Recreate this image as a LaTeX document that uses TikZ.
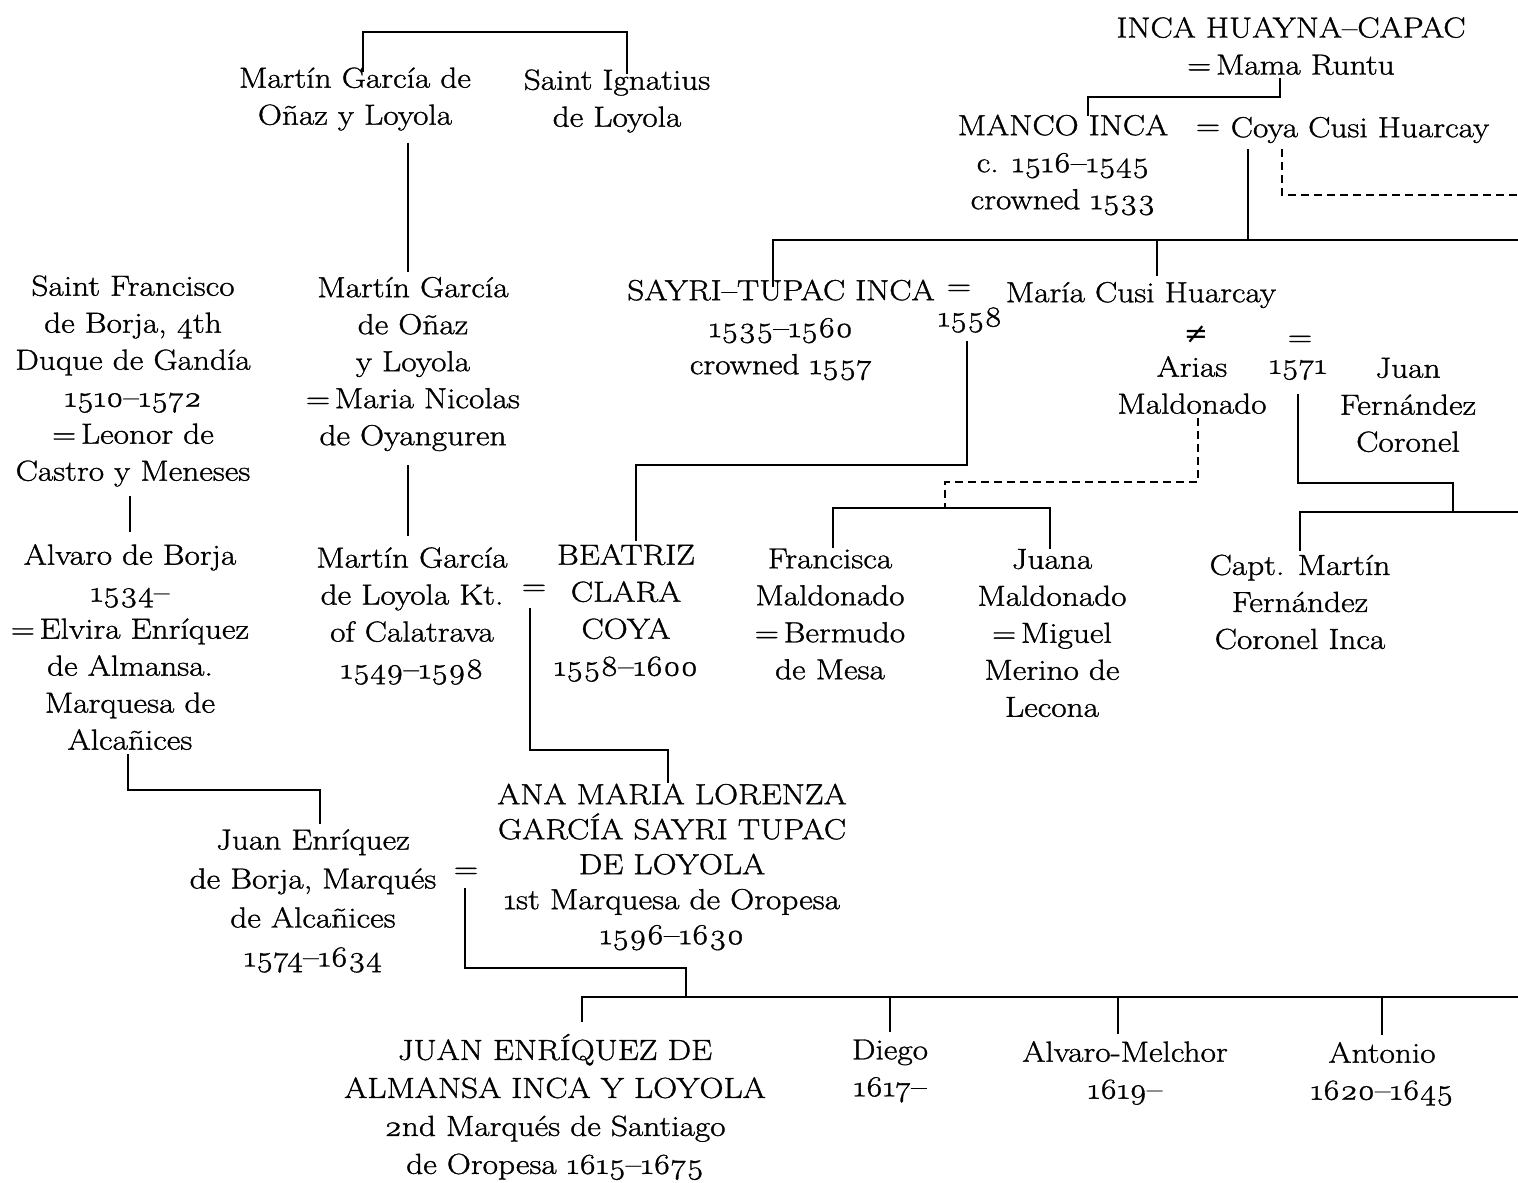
\documentclass[tikz,border=0pt]{standalone}
\usepackage{fontspec}
\setmainfont{Latin Modern Roman}[Numbers=OldStyle,FakeStretch=1.15,FakeBold=1.1]
\begin{document}
\begin{tikzpicture}[x=1pt,y=-1pt,
  lbl/.style={align=center,inner sep=0pt,font=\fontsize{29}{37}\selectfont},
  ln/.style={line width=2.8pt},
  dl/.style={line width=2.5pt,dash pattern=on 8pt off 5pt}]
\useasboundingbox[fill=white] (0,0) rectangle (1518,1183);

% ---------- nodes ----------
\node[lbl] (hc) at (1291,46) {INCA HUAYNA–CAPAC\\=\,Mama Runtu};
\node[lbl] (manco) at (1063,165) {MANCO INCA\\c. 1516–1545\\crowned 1533};
\node[lbl] (eq1) at (1208,130) {=};
\node[lbl] (coya) at (1360,130) {Coya Cusi Huarcay};

\node[lbl] (sayri) at (781,330) {SAYRI–TUPAC INCA\\1535–1560\\crowned 1557};
\node[lbl] (eq2) at (959,290) {=};
\node[lbl] (y1558) at (970,320) {1558};
\node[lbl] (maria) at (1141,295) {María Cusi Huarcay};
\node[lbl] (neq) at (1196,335) {\fontspec{DejaVu Serif}≠};
\node[lbl] (arias) at (1192,385) {Arias\\Maldonado};
\node[lbl] (eq3) at (1300,341) {=};
\node[lbl] (y1571) at (1298,370) {1571};
\node[lbl] (juanfc) at (1408,405) {Juan\\Fernández\\Coronel};

\node[lbl] (fran) at (830,614) {Francisca\\Maldonado\\=\,Bermudo\\de Mesa};
\node[lbl] (juana) at (1052,633) {Juana\\Maldonado\\=\,Miguel\\Merino de\\Lecona};
\node[lbl] (capt) at (1300,602) {Capt. Martín\\Fernández\\Coronel Inca};

\node[lbl] (mg1) at (355,99) {Martín García de\\Oñaz y Loyola};
\node[lbl] (ign) at (617,101) {Saint Ignatius\\de Loyola};
\node[lbl] (mg2) at (413,364) {Martín García\\de Oñaz\\y Loyola\\=\,Maria Nicolas\\de Oyanguren};
\node[lbl] (mg3) at (412,616) {Martín García\\de Loyola Kt.\\of Calatrava\\1549–1598};
\node[lbl] (eq4) at (534,590) {=};
\node[lbl] (beatriz) at (626,613) {BEATRIZ\\CLARA\\COYA\\1558–1600};
\node[lbl,font=\fontsize{29}{35}\selectfont] (ana) at (672,867) {ANA MARIA LORENZA\\GARCÍA SAYRI TUPAC\\DE LOYOLA\\1st Marquesa de Oropesa\\1596–1630};

\node[lbl] (borja) at (133,381) {Saint Francisco\\de Borja, 4th\\Duque de Gandía\\1510–1572\\=\,Leonor de\\Castro y Meneses};
\node[lbl] (alvaro) at (130,647) {Alvaro de Borja\\1534–\\=\,Elvira Enríquez\\de Almansa.\\Marquesa de\\Alcañices};
\node[lbl,font=\fontsize{29}{39}\selectfont] (juan) at (313,901) {Juan Enríquez\\de Borja, Marqués\\de Alcañices\\1574–1634};
\node[lbl] (eq5) at (466,873) {=};

\node[lbl,font=\fontsize{29}{38}\selectfont] (juan2) at (555,1107) {JUAN ENRÍQUEZ DE\\ALMANSA INCA Y LOYOLA\\2nd Marqués de Santiago\\de Oropesa 1615–1675};
\node[lbl] (diego) at (890,1071) {Diego\\1617–};
\node[lbl] (am) at (1125,1073) {Alvaro-Melchor\\1619–};
\node[lbl] (anton) at (1382,1074) {Antonio\\1620–1645};

% ---------- junction coordinates ----------
\coordinate (a1) at (1280,97);  \coordinate (a2) at (1088,97);
\coordinate (c1) at (1248,240); \coordinate (d1) at (1282,195); \coordinate (d2) at (1518,195);
\coordinate (b1) at (773,240);  \coordinate (b2) at (1157,240); \coordinate (b3) at (1518,240);
\coordinate (s1) at (967,465);  \coordinate (s2) at (636,465);
\coordinate (m1) at (1198,482); \coordinate (m2) at (945,482);  \coordinate (m3) at (945,508);
\coordinate (f1) at (833,508);  \coordinate (f2) at (1050,508);
\coordinate (k1) at (1298,483); \coordinate (k2) at (1453,483); \coordinate (k3) at (1453,512);
\coordinate (k4) at (1300,512); \coordinate (k5) at (1518,512);
\coordinate (t1) at (363,32);   \coordinate (t2) at (627,32);
\coordinate (g1) at (408,300);
\coordinate (e1) at (530,750);  \coordinate (e2) at (668,750);
\coordinate (r1) at (130,500);
\coordinate (l1) at (128,790);  \coordinate (l2) at (320,790);
\coordinate (q1) at (465,968);  \coordinate (q2) at (686,968);  \coordinate (q3) at (686,997);
\coordinate (z1) at (582,997);  \coordinate (z2) at (1518,997);
\coordinate (z3) at (890,997);  \coordinate (z4) at (1118,997); \coordinate (z5) at (1382,997);

% ---------- connectors ----------
\draw[ln] ([yshift=-3pt]hc.south -| a1) -- (a1) -- (a2) -- ([yshift=-2pt]a2 |- manco.north);
\draw[ln] ([yshift=-6pt]coya.south -| c1) -- (c1);
\draw[dl] ([yshift=-6pt]coya.south -| d1) -- (d1) -- (d2);
\draw[ln] ([yshift=-8pt]b1 |- sayri.north) -- (b1) -- (b3);
\draw[ln] (b2) -- ([yshift=6pt]b2 |- maria.north);
\draw[ln] ([yshift=-8pt]y1558.south -| s1) -- (s1) -- (s2) -- ([yshift=3pt]s2 |- beatriz.north);
\draw[dl] ([yshift=-4pt]arias.south -| m1) -- (m1) -- (m2) -- (m3);
\draw[ln] (f1 |- fran.north) -- (f1) -- (f2) -- (f2 |- juana.north);
\draw[ln] ([yshift=-14pt]y1571.south -| k1) -- (k1) -- (k2) -- (k3);
\draw[ln] ([yshift=3pt]k4 |- capt.north) -- (k4) -- (k5);
\draw[ln] ([yshift=-5pt]t1 |- mg1.north) -- (t1) -- (t2) -- ([yshift=-5pt]t2 |- ign.north);
\draw[ln] ([yshift=-12pt]mg1.south -| g1) -- ([yshift=5pt]g1 |- mg2.north);
\draw[ln] ([yshift=-14pt]mg2.south -| g1) -- ([yshift=11pt]g1 |- mg3.north);
\draw[ln] ([yshift=-13pt]eq4.south -| e1) -- (e1) -- (e2) -- (e2 |- ana.north);
\draw[ln] ([yshift=-9pt]borja.south -| r1) -- ([yshift=12pt]r1 |- alvaro.north);
\draw[ln] ([yshift=-4pt]alvaro.south -| l1) -- (l1) -- (l2) -- ([yshift=5pt]l2 |- juan.north);
\draw[ln] ([yshift=-10pt]eq5.south -| q1) -- (q1) -- (q2) -- (q3);
\draw[ln] ([yshift=12pt]z1 |- juan2.north) -- (z1) -- (z2);
\draw[ln] (z3) -- ([yshift=7pt]z3 |- diego.north);
\draw[ln] (z4) -- ([yshift=7pt]z4 |- am.north);
\draw[ln] (z5) -- ([yshift=7pt]z5 |- anton.north);
\end{tikzpicture}
\end{document}
